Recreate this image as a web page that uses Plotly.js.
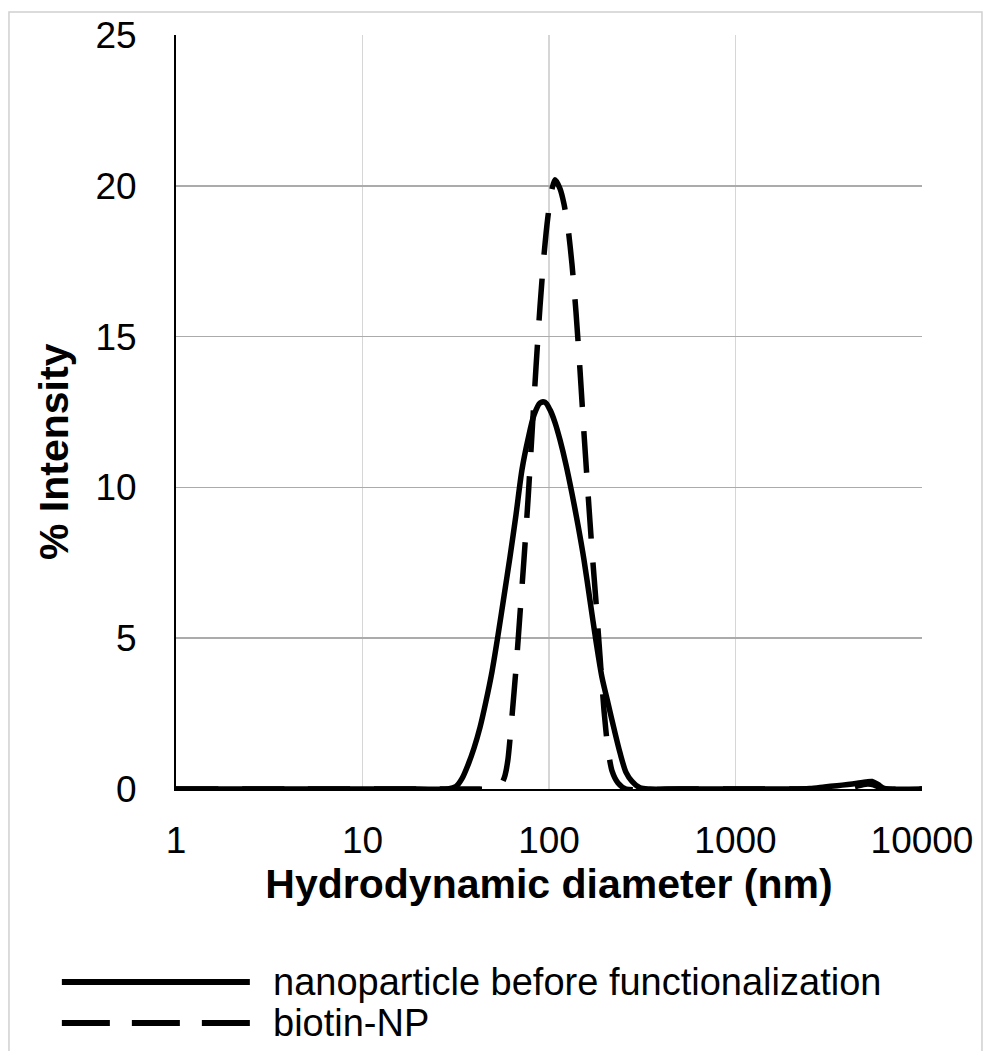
<!DOCTYPE html>
<html>
<head>
<meta charset="utf-8">
<script src="https://cdn.plot.ly/plotly-3.0.1.min.js"></script>
<style>html,body{margin:0;padding:0;background:#fff;}#chart{width:983px;height:1051px;}</style>
</head>
<body>
<div id="chart"></div>
<script>
// Hydrodynamic diameter (nm) and % intensity
const seriesNames = ["nanoparticle before functionalization", "biotin-NP"];

const beforeDiameter = [1, 2, 5, 10, 20, 28.7, 31.7, 34.2, 36.8, 39.6, 42.7, 45.9, 49.5, 53.3, 57.4, 61.8, 66.55, 71.7, 77.2, 83.1, 89.5, 95.2, 101.3, 107.7, 114.6, 123.4, 132.8, 143.0, 154.0, 165.9, 178.7, 192.4, 207.2, 223.1, 240.3, 258.8, 278.7, 307.6, 348.0, 500, 1000, 2000, 2500, 3000, 3500, 4000, 4500, 5000, 5400, 5800, 6200, 6600, 10000];
const beforeIntensity = [0, 0, 0, 0, 0, 0, 0.08, 0.35, 0.8, 1.35, 2.05, 2.9, 3.9, 5.1, 6.4, 7.7, 9.1, 10.6, 11.6, 12.4, 12.8, 12.82, 12.57, 12.15, 11.57, 10.75, 9.8, 8.75, 7.6, 6.25, 4.9, 3.7, 2.85, 2.0, 1.2, 0.55, 0.25, 0.04, 0, 0, 0, 0, 0.02, 0.07, 0.11, 0.15, 0.19, 0.23, 0.25, 0.15, 0.03, 0, 0];

const biotinDiameter = [1, 5, 10, 20, 40, 48.3, 53.3, 56.0, 58.08, 60.3, 63.3, 66.55, 69.9, 73.4, 77.2, 81.1, 85.2, 89.5, 94.0, 98.8, 103.8, 107.7, 114.6, 120.3, 126.5, 132.8, 139.6, 146.6, 154.0, 161.9, 170.1, 178.7, 187.7, 197.2, 207.2, 217.7, 234.4, 258.8, 500, 1000, 2500, 3500, 4000, 4500, 5000, 5500, 5900, 6300, 10000];
const biotinIntensity = [0, 0, 0, 0, 0, 0, 0.1, 0.2, 0.45, 1.0, 2.4, 4.0, 5.8, 7.6, 9.6, 11.8, 14.0, 16.0, 17.7, 19.0, 19.9, 20.2, 19.9, 19.4, 18.6, 17.4, 15.8, 13.9, 11.8, 9.8, 7.9, 6.2, 4.4, 2.6, 1.3, 0.6, 0.2, 0, 0, 0, 0, 0, 0.03, 0.1, 0.16, 0.14, 0.05, 0, 0];

const xTickVals = [1, 10, 100, 1000, 10000];
const xTickText = ["1", "10", "100", "1000", "10000"];
const yTickVals = [0, 5, 10, 15, 20, 25];

const xTitle = "Hydrodynamic diameter (nm)";
const yTitle = "% Intensity";

const FONT = "Liberation Sans, Arial, sans-serif";

const traces = [
  {x: beforeDiameter, y: beforeIntensity, name: seriesNames[0], type: "scatter", mode: "lines",
   line: {color: "#000", width: 5.5, shape: "spline", smoothing: 0.8}, showlegend: false},
  {x: biotinDiameter, y: biotinIntensity, name: seriesNames[1], type: "scatter", mode: "lines",
   line: {color: "#000", width: 5.5, dash: "42px,24px", shape: "spline", smoothing: 0.6}, showlegend: false}
];

const layout = {
  width: 983, height: 1051,
  margin: {l: 176, r: 61, t: 35, b: 262, pad: 0},
  paper_bgcolor: "#fff", plot_bgcolor: "#fff",
  font: {family: FONT, color: "#000"},
  showlegend: false,
  xaxis: {
    type: "log", range: [0, 4],
    tickvals: xTickVals, ticktext: xTickText,
    tickfont: {size: 37, family: FONT, color: "#000"},
    ticks: "", ticklabelstandoff: 18,
    showgrid: true, gridcolor: "#d6d6d6", gridwidth: 1.5,
    showline: true, linecolor: "#000", linewidth: 2,
    zeroline: false, mirror: false,
    title: {text: xTitle, font: {size: 41, family: FONT, color: "#000", weight: "bold"}, standoff: 4}
  },
  yaxis: {
    range: [0, 25], tickvals: yTickVals,
    tickfont: {size: 37, family: FONT, color: "#000"},
    ticks: "", ticklabelstandoff: 30,
    showgrid: true, gridcolor: "#ababab", gridwidth: 1.5,
    showline: true, linecolor: "#000", linewidth: 2,
    zeroline: false
  },
  shapes: [
    {type: "rect", xref: "paper", yref: "paper", x0: -0.2239, x1: 1.0804, y0: -0.36, y1: 1.0305,
     line: {color: "#d0d0d0", width: 1.5}, fillcolor: "rgba(0,0,0,0)", layer: "below"},
    {type: "line", xref: "paper", yref: "paper", x0: -0.153, x1: 0.099, y0: -0.256, y1: -0.256,
     line: {color: "#000", width: 6}},
    {type: "line", xref: "paper", yref: "paper", x0: -0.153, x1: 0.099, y0: -0.3103, y1: -0.3103,
     line: {color: "#000", width: 6, dash: "48px,22px"}}
  ],
  annotations: [
    {text: yTitle, xref: "paper", yref: "paper", x: -0.1635, y: 0.447, xanchor: "center", yanchor: "middle", textangle: -90,
     showarrow: false, font: {size: 41, family: FONT, color: "#000", weight: "bold"}},
    {text: seriesNames[0], xref: "paper", yref: "paper", x: 0.128, y: -0.256, xanchor: "left", yanchor: "middle",
     showarrow: false, font: {size: 38, family: FONT, color: "#000"}},
    {text: seriesNames[1], xref: "paper", yref: "paper", x: 0.128, y: -0.3103, xanchor: "left", yanchor: "middle",
     showarrow: false, font: {size: 38, family: FONT, color: "#000"}}
  ]
};

Plotly.newPlot("chart", traces, layout, {displayModeBar: false, staticPlot: true});
</script>
</body>
</html>
